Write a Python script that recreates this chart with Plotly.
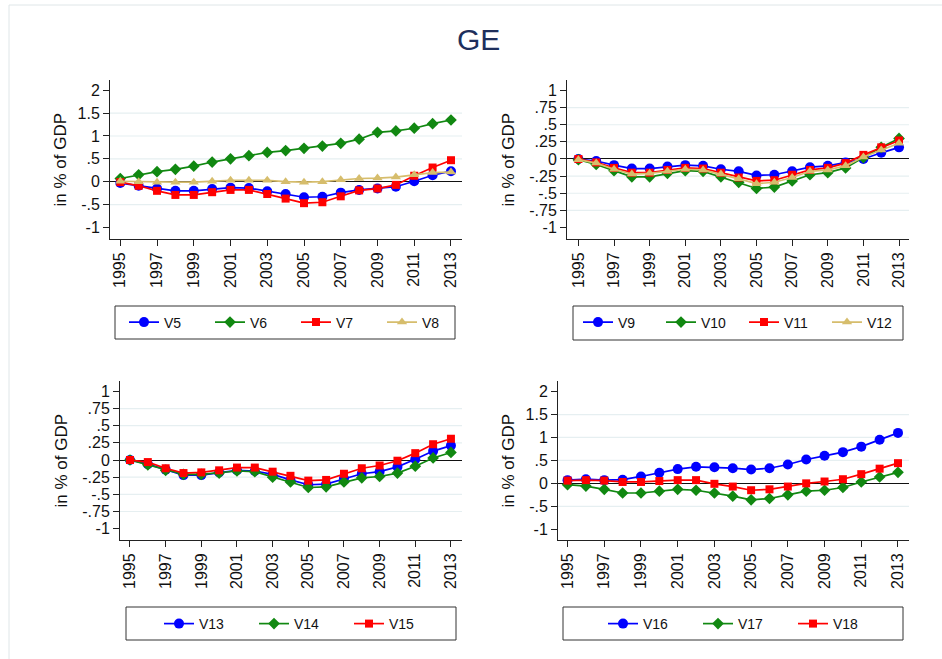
import plotly.graph_objects as go

W, H = 942, 659

years = list(range(1995, 2014))
year_ticks = list(range(1995, 2014, 2))

# Panel 1
v5 = [-0.03, -0.09, -0.15, -0.20, -0.20, -0.16, -0.13, -0.14, -0.21, -0.27, -0.34, -0.33, -0.24, -0.18, -0.15, -0.11, 0.01, 0.14, 0.23]
v6 = [0.07, 0.15, 0.22, 0.27, 0.34, 0.43, 0.50, 0.57, 0.64, 0.68, 0.73, 0.78, 0.84, 0.93, 1.08, 1.11, 1.17, 1.27, 1.35]
v7 = [-0.01, -0.09, -0.20, -0.29, -0.29, -0.23, -0.18, -0.18, -0.27, -0.37, -0.47, -0.45, -0.32, -0.19, -0.15, -0.07, 0.13, 0.31, 0.47]
v8 = [0.01, 0.00, -0.01, -0.01, -0.01, 0.01, 0.03, 0.03, 0.03, 0.00, -0.01, 0.00, 0.04, 0.07, 0.08, 0.10, 0.15, 0.20, 0.21]

# Panel 2
v9 = [0.00, -0.03, -0.09, -0.14, -0.14, -0.11, -0.09, -0.10, -0.15, -0.18, -0.24, -0.23, -0.18, -0.12, -0.10, -0.05, 0.00, 0.09, 0.17]
v10 = [-0.01, -0.08, -0.17, -0.26, -0.26, -0.21, -0.17, -0.18, -0.26, -0.34, -0.43, -0.41, -0.32, -0.23, -0.20, -0.13, 0.02, 0.17, 0.30]
v11 = [0.00, -0.05, -0.13, -0.20, -0.20, -0.16, -0.13, -0.14, -0.20, -0.27, -0.32, -0.31, -0.23, -0.16, -0.13, -0.06, 0.06, 0.17, 0.27]
v12 = [-0.01, -0.06, -0.15, -0.22, -0.21, -0.18, -0.15, -0.16, -0.22, -0.29, -0.36, -0.34, -0.27, -0.18, -0.16, -0.10, 0.03, 0.13, 0.23]

# Panel 3
v13 = [0.00, -0.06, -0.14, -0.22, -0.22, -0.18, -0.15, -0.16, -0.21, -0.29, -0.36, -0.35, -0.27, -0.20, -0.17, -0.10, 0.01, 0.13, 0.21]
v14 = [0.00, -0.07, -0.15, -0.21, -0.21, -0.19, -0.16, -0.17, -0.25, -0.32, -0.40, -0.39, -0.32, -0.26, -0.24, -0.19, -0.09, 0.03, 0.11]
v15 = [0.00, -0.03, -0.12, -0.19, -0.18, -0.15, -0.11, -0.11, -0.17, -0.23, -0.30, -0.29, -0.20, -0.12, -0.08, -0.01, 0.10, 0.23, 0.31]

# Panel 4
v16 = [0.07, 0.09, 0.07, 0.08, 0.15, 0.23, 0.31, 0.36, 0.35, 0.33, 0.30, 0.33, 0.41, 0.52, 0.60, 0.68, 0.80, 0.95, 1.10]
v17 = [-0.03, -0.06, -0.13, -0.21, -0.21, -0.17, -0.13, -0.15, -0.21, -0.28, -0.36, -0.33, -0.25, -0.17, -0.15, -0.09, 0.03, 0.14, 0.24]
v18 = [0.06, 0.07, 0.06, 0.03, 0.03, 0.05, 0.07, 0.07, -0.01, -0.07, -0.15, -0.13, -0.07, 0.00, 0.04, 0.09, 0.20, 0.32, 0.44]

ticks_wide = [2, 1.5, 1, 0.5, 0, -0.5, -1]
ticks_wide_text = ["2", "1.5", "1", ".5", "0", "-.5", "-1"]
ticks_narrow = [1, 0.75, 0.5, 0.25, 0, -0.25, -0.5, -0.75, -1]
ticks_narrow_text = ["1", ".75", ".5", ".25", "0", "-.25", "-.5", "-.75", "-1"]
grid_wide = [1.5, 1, 0.5, -0.5]
grid_narrow = [0.75, 0.5, 0.25, -0.25, -0.5, -0.75]

BLUE, GREEN, RED, SAND = "#0000ff", "#118811", "#ff0000", "#d6bd6c"
STYLE = {
    "blue": (BLUE, "circle", 10),
    "green": (GREEN, "diamond", 9),
    "red": (RED, "square", 8),
    "sand": (SAND, "triangle-up", 9),
}

FONT = "Liberation Sans, Arial, sans-serif"


def px(x):
    return x / W


def py(y):
    return 1 - y / H


# panel geometry (pixel boxes) and scales
panels = [
    dict(dom_x=(110, 462), dom_y=(80, 239), xr=(1994.44, 2013.6), yr=(-1.254, 2.225),
         ticks=(ticks_wide, ticks_wide_text), grid=grid_wide, ytitle_x=60,
         series=[("V5", v5, "blue"), ("V6", v6, "green"), ("V7", v7, "red"), ("V8", v8, "sand")],
         box=(115, 455, 306, 339), legend_x=124, legend_y=322.5, entry=41),
    dict(dom_x=(567, 909), dom_y=(80, 239), xr=(1994.36, 2013.56), yr=(-1.168, 1.153),
         ticks=(ticks_narrow, ticks_narrow_text), grid=grid_narrow, ytitle_x=508,
         series=[("V9", v9, "blue"), ("V10", v10, "green"), ("V11", v11, "red"), ("V12", v12, "sand")],
         box=(573, 903, 306, 340), legend_x=578, legend_y=322.5, entry=38),
    dict(dom_x=(120, 462), dom_y=(381, 540), xr=(1994.44, 2013.62), yr=(-1.165, 1.151),
         ticks=(ticks_narrow, ticks_narrow_text), grid=grid_narrow, ytitle_x=61,
         series=[("V13", v13, "blue"), ("V14", v14, "green"), ("V15", v15, "red")],
         box=(126, 456, 607, 640), legend_x=159, legend_y=624, entry=50),
    dict(dom_x=(558, 909), dom_y=(381, 540), xr=(1994.48, 2013.6), yr=(-1.235, 2.231),
         ticks=(ticks_wide, ticks_wide_text), grid=grid_wide, ytitle_x=508,
         series=[("V16", v16, "blue"), ("V17", v17, "green"), ("V18", v18, "red")],
         box=(563, 903, 607, 640), legend_x=603, legend_y=624, entry=50),
]

fig = go.Figure()
shapes = []
annotations = []
layout = {}

for i, p in enumerate(panels, start=1):
    sfx = "" if i == 1 else str(i)
    xa, ya = "x" + sfx, "y" + sfx
    lg = "legend" if i == 1 else "legend" + str(i)

    for name, vals, key in p["series"]:
        color, symbol, size = STYLE[key]
        fig.add_trace(go.Scatter(
            x=years, y=vals, name=name, mode="lines+markers",
            line=dict(color=color, width=1.7),
            marker=dict(color=color, symbol=symbol, size=size, line=dict(width=0)),
            xaxis=xa, yaxis=ya, legend=lg,
        ))

    layout["xaxis" + sfx] = dict(
        domain=[px(p["dom_x"][0]), px(p["dom_x"][1])], anchor=ya,
        range=list(p["xr"]), tickmode="array", tickvals=year_ticks,
        ticktext=[str(t) for t in year_ticks], tickangle=-90,
        showgrid=False, zeroline=False, showline=True, linecolor="#222", linewidth=1,
        ticks="outside", ticklen=6, tickcolor="#222",
        tickfont=dict(family=FONT, size=16, color="#111"),
    )
    layout["yaxis" + sfx] = dict(
        domain=[py(p["dom_y"][1]), py(p["dom_y"][0])], anchor=xa,
        range=list(p["yr"]), tickmode="array", tickvals=p["ticks"][0],
        ticktext=p["ticks"][1], showgrid=False,
        zeroline=True, zerolinecolor="#111", zerolinewidth=1,
        showline=True, linecolor="#222", linewidth=1,
        ticks="outside", ticklen=6, tickcolor="#222",
        tickfont=dict(family=FONT, size=16, color="#111"),
    )

    for g in p["grid"]:
        shapes.append(dict(type="line", xref=xa + " domain", yref=ya, x0=0, x1=1, y0=g, y1=g,
                           line=dict(color="#e6eff1", width=1.2), layer="below"))

    bx0, bx1, by0, by1 = p["box"]
    shapes.append(dict(type="rect", xref="paper", yref="paper",
                       x0=px(bx0), x1=px(bx1), y0=py(by1), y1=py(by0),
                       line=dict(color="#333", width=1)))

    layout[lg] = dict(
        orientation="h", x=px(p["legend_x"]), xanchor="left",
        y=py(p["legend_y"]), yanchor="middle",
        bgcolor="rgba(0,0,0,0)", borderwidth=0,
        entrywidth=p["entry"], entrywidthmode="pixels",
        font=dict(family=FONT, size=14, color="#111"),
    )

    cy = (p["dom_y"][0] + p["dom_y"][1]) / 2
    annotations.append(dict(text="in % of GDP", textangle=-90, xref="paper", yref="paper",
                            x=px(p["ytitle_x"]), y=py(cy), xanchor="center", yanchor="middle",
                            showarrow=False, font=dict(family=FONT, size=17, color="#111")))

# outer frame
shapes.append(dict(type="rect", xref="paper", yref="paper", x0=px(9), x1=1.02, y0=-0.02, y1=py(5),
                   line=dict(color="#dfe6e8", width=1)))

annotations.append(dict(text="GE", xref="paper", yref="paper", x=px(478), y=py(39),
                        xanchor="center", yanchor="middle", showarrow=False,
                        font=dict(family=FONT, size=30, color="#1e2f5c")))

fig.update_layout(
    width=W, height=H, margin=dict(l=0, r=0, t=0, b=0),
    paper_bgcolor="white", plot_bgcolor="white",
    shapes=shapes, annotations=annotations, showlegend=True,
    **layout,
)

fig.write_html("out.html")
